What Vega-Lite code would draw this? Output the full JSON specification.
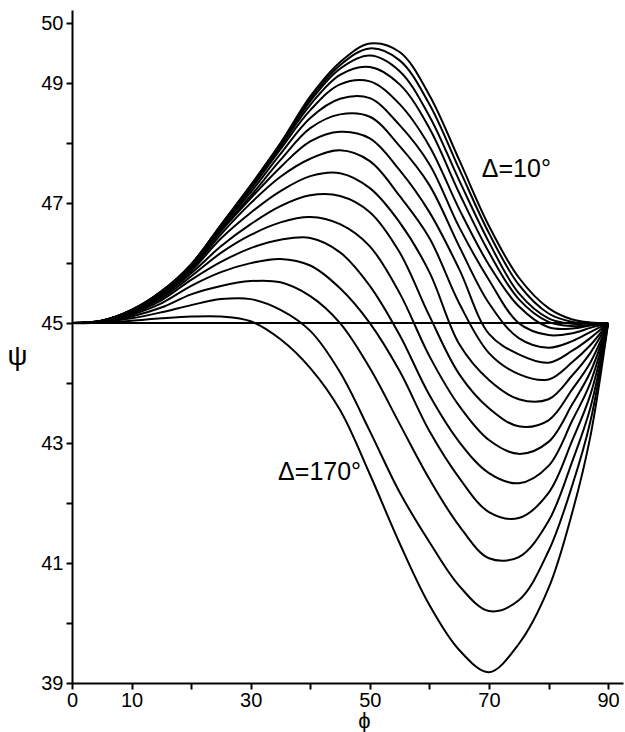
{
"$schema": "https://vega.github.io/schema/vega-lite/v6.json",
"width": 551, "height": 673,
"autosize": {"type": "none"},
"padding": {"left": 72, "top": 10, "right": 2, "bottom": 49},
"background": "white",
"config": {"view": {"stroke": null}, "font": "Liberation Sans"},
"datasets": {
"curves": [
{"delta":"10","phi":0,"psi":45},{"delta":"10","phi":5,"psi":45.04},{"delta":"10","phi":10,"psi":45.22},{"delta":"10","phi":15,"psi":45.53},{"delta":"10","phi":20,"psi":45.98},{"delta":"10","phi":25,"psi":46.64},{"delta":"10","phi":30,"psi":47.30},{"delta":"10","phi":35,"psi":48.00},{"delta":"10","phi":40,"psi":48.78},{"delta":"10","phi":45,"psi":49.35},{"delta":"10","phi":50,"psi":49.66},{"delta":"10","phi":55,"psi":49.52},{"delta":"10","phi":60,"psi":48.80},{"delta":"10","phi":65,"psi":47.72},{"delta":"10","phi":70,"psi":46.62},{"delta":"10","phi":75,"psi":45.76},{"delta":"10","phi":80,"psi":45.25},{"delta":"10","phi":84,"psi":45.06},{"delta":"10","phi":87,"psi":45.01},{"delta":"10","phi":90,"psi":45},
{"delta":"20","phi":0,"psi":45},{"delta":"20","phi":5,"psi":45.04},{"delta":"20","phi":10,"psi":45.22},{"delta":"20","phi":15,"psi":45.53},{"delta":"20","phi":20,"psi":45.98},{"delta":"20","phi":25,"psi":46.63},{"delta":"20","phi":30,"psi":47.29},{"delta":"20","phi":35,"psi":47.99},{"delta":"20","phi":40,"psi":48.74},{"delta":"20","phi":45,"psi":49.30},{"delta":"20","phi":50,"psi":49.58},{"delta":"20","phi":55,"psi":49.38},{"delta":"20","phi":60,"psi":48.65},{"delta":"20","phi":65,"psi":47.57},{"delta":"20","phi":70,"psi":46.50},{"delta":"20","phi":75,"psi":45.64},{"delta":"20","phi":80,"psi":45.16},{"delta":"20","phi":84,"psi":45.02},{"delta":"20","phi":87,"psi":45.00},{"delta":"20","phi":90,"psi":45},
{"delta":"30","phi":0,"psi":45},{"delta":"30","phi":5,"psi":45.04},{"delta":"30","phi":10,"psi":45.22},{"delta":"30","phi":15,"psi":45.52},{"delta":"30","phi":20,"psi":45.97},{"delta":"30","phi":25,"psi":46.63},{"delta":"30","phi":30,"psi":47.28},{"delta":"30","phi":35,"psi":47.97},{"delta":"30","phi":40,"psi":48.70},{"delta":"30","phi":45,"psi":49.24},{"delta":"30","phi":50,"psi":49.46},{"delta":"30","phi":55,"psi":49.20},{"delta":"30","phi":60,"psi":48.45},{"delta":"30","phi":65,"psi":47.38},{"delta":"30","phi":70,"psi":46.35},{"delta":"30","phi":75,"psi":45.50},{"delta":"30","phi":80,"psi":45.08},{"delta":"30","phi":84,"psi":44.99},{"delta":"30","phi":87,"psi":44.99},{"delta":"30","phi":90,"psi":45},
{"delta":"40","phi":0,"psi":45},{"delta":"40","phi":5,"psi":45.04},{"delta":"40","phi":10,"psi":45.21},{"delta":"40","phi":15,"psi":45.52},{"delta":"40","phi":20,"psi":45.97},{"delta":"40","phi":25,"psi":46.62},{"delta":"40","phi":30,"psi":47.26},{"delta":"40","phi":35,"psi":47.94},{"delta":"40","phi":40,"psi":48.64},{"delta":"40","phi":45,"psi":49.14},{"delta":"40","phi":50,"psi":49.27},{"delta":"40","phi":55,"psi":48.98},{"delta":"40","phi":60,"psi":48.25},{"delta":"40","phi":65,"psi":47.17},{"delta":"40","phi":70,"psi":46.18},{"delta":"40","phi":75,"psi":45.40},{"delta":"40","phi":80,"psi":45.02},{"delta":"40","phi":84,"psi":44.95},{"delta":"40","phi":87,"psi":44.97},{"delta":"40","phi":90,"psi":45},
{"delta":"50","phi":0,"psi":45},{"delta":"50","phi":5,"psi":45.04},{"delta":"50","phi":10,"psi":45.21},{"delta":"50","phi":15,"psi":45.52},{"delta":"50","phi":20,"psi":45.96},{"delta":"50","phi":25,"psi":46.61},{"delta":"50","phi":30,"psi":47.23},{"delta":"50","phi":35,"psi":47.90},{"delta":"50","phi":40,"psi":48.55},{"delta":"50","phi":45,"psi":48.98},{"delta":"50","phi":50,"psi":49.03},{"delta":"50","phi":55,"psi":48.65},{"delta":"50","phi":60,"psi":47.95},{"delta":"50","phi":65,"psi":46.90},{"delta":"50","phi":70,"psi":45.97},{"delta":"50","phi":75,"psi":45.28},{"delta":"50","phi":80,"psi":44.93},{"delta":"50","phi":84,"psi":44.91},{"delta":"50","phi":87,"psi":44.96},{"delta":"50","phi":90,"psi":45},
{"delta":"60","phi":0,"psi":45},{"delta":"60","phi":5,"psi":45.04},{"delta":"60","phi":10,"psi":45.21},{"delta":"60","phi":15,"psi":45.51},{"delta":"60","phi":20,"psi":45.95},{"delta":"60","phi":25,"psi":46.59},{"delta":"60","phi":30,"psi":47.18},{"delta":"60","phi":35,"psi":47.82},{"delta":"60","phi":40,"psi":48.42},{"delta":"60","phi":45,"psi":48.74},{"delta":"60","phi":50,"psi":48.75},{"delta":"60","phi":55,"psi":48.30},{"delta":"60","phi":60,"psi":47.65},{"delta":"60","phi":65,"psi":46.60},{"delta":"60","phi":70,"psi":45.72},{"delta":"60","phi":75,"psi":45.00},{"delta":"60","phi":80,"psi":44.80},{"delta":"60","phi":84,"psi":44.83},{"delta":"60","phi":87,"psi":44.92},{"delta":"60","phi":90,"psi":45},
{"delta":"70","phi":0,"psi":45},{"delta":"70","phi":5,"psi":45.04},{"delta":"70","phi":10,"psi":45.20},{"delta":"70","phi":15,"psi":45.50},{"delta":"70","phi":20,"psi":45.94},{"delta":"70","phi":25,"psi":46.56},{"delta":"70","phi":30,"psi":47.12},{"delta":"70","phi":35,"psi":47.72},{"delta":"70","phi":40,"psi":48.25},{"delta":"70","phi":45,"psi":48.48},{"delta":"70","phi":50,"psi":48.44},{"delta":"70","phi":55,"psi":47.95},{"delta":"70","phi":60,"psi":47.30},{"delta":"70","phi":65,"psi":46.28},{"delta":"70","phi":70,"psi":45.33},{"delta":"70","phi":75,"psi":44.75},{"delta":"70","phi":80,"psi":44.59},{"delta":"70","phi":84,"psi":44.70},{"delta":"70","phi":87,"psi":44.85},{"delta":"70","phi":90,"psi":45},
{"delta":"80","phi":0,"psi":45},{"delta":"80","phi":5,"psi":45.03},{"delta":"80","phi":10,"psi":45.20},{"delta":"80","phi":15,"psi":45.49},{"delta":"80","phi":20,"psi":45.92},{"delta":"80","phi":25,"psi":46.53},{"delta":"80","phi":30,"psi":47.08},{"delta":"80","phi":35,"psi":47.60},{"delta":"80","phi":40,"psi":48.03},{"delta":"80","phi":45,"psi":48.19},{"delta":"80","phi":50,"psi":48.08},{"delta":"80","phi":55,"psi":47.55},{"delta":"80","phi":60,"psi":46.85},{"delta":"80","phi":65,"psi":45.90},{"delta":"80","phi":70,"psi":44.82},{"delta":"80","phi":75,"psi":44.48},{"delta":"80","phi":80,"psi":44.34},{"delta":"80","phi":84,"psi":44.54},{"delta":"80","phi":87,"psi":44.75},{"delta":"80","phi":90,"psi":45},
{"delta":"90","phi":0,"psi":45},{"delta":"90","phi":5,"psi":45.03},{"delta":"90","phi":10,"psi":45.19},{"delta":"90","phi":15,"psi":45.48},{"delta":"90","phi":20,"psi":45.90},{"delta":"90","phi":25,"psi":46.48},{"delta":"90","phi":30,"psi":47.00},{"delta":"90","phi":35,"psi":47.44},{"delta":"90","phi":40,"psi":47.74},{"delta":"90","phi":45,"psi":47.88},{"delta":"90","phi":50,"psi":47.70},{"delta":"90","phi":55,"psi":47.12},{"delta":"90","phi":60,"psi":46.42},{"delta":"90","phi":65,"psi":45.33},{"delta":"90","phi":70,"psi":44.50},{"delta":"90","phi":75,"psi":44.15},{"delta":"90","phi":80,"psi":44.06},{"delta":"90","phi":84,"psi":44.35},{"delta":"90","phi":87,"psi":44.63},{"delta":"90","phi":90,"psi":45},
{"delta":"100","phi":0,"psi":45},{"delta":"100","phi":5,"psi":45.03},{"delta":"100","phi":10,"psi":45.19},{"delta":"100","phi":15,"psi":45.46},{"delta":"100","phi":20,"psi":45.87},{"delta":"100","phi":25,"psi":46.41},{"delta":"100","phi":30,"psi":46.84},{"delta":"100","phi":35,"psi":47.20},{"delta":"100","phi":40,"psi":47.45},{"delta":"100","phi":45,"psi":47.50},{"delta":"100","phi":50,"psi":47.25},{"delta":"100","phi":55,"psi":46.68},{"delta":"100","phi":60,"psi":45.85},{"delta":"100","phi":65,"psi":44.65},{"delta":"100","phi":70,"psi":44.05},{"delta":"100","phi":75,"psi":43.73},{"delta":"100","phi":80,"psi":43.73},{"delta":"100","phi":84,"psi":44.13},{"delta":"100","phi":87,"psi":44.50},{"delta":"100","phi":90,"psi":45},
{"delta":"110","phi":0,"psi":45},{"delta":"110","phi":5,"psi":45.03},{"delta":"110","phi":10,"psi":45.18},{"delta":"110","phi":15,"psi":45.44},{"delta":"110","phi":20,"psi":45.83},{"delta":"110","phi":25,"psi":46.28},{"delta":"110","phi":30,"psi":46.65},{"delta":"110","phi":35,"psi":46.95},{"delta":"110","phi":40,"psi":47.13},{"delta":"110","phi":45,"psi":47.12},{"delta":"110","phi":50,"psi":46.85},{"delta":"110","phi":55,"psi":46.18},{"delta":"110","phi":60,"psi":45.12},{"delta":"110","phi":65,"psi":44.15},{"delta":"110","phi":70,"psi":43.58},{"delta":"110","phi":75,"psi":43.28},{"delta":"110","phi":80,"psi":43.38},{"delta":"110","phi":84,"psi":43.90},{"delta":"110","phi":87,"psi":44.34},{"delta":"110","phi":90,"psi":45},
{"delta":"120","phi":0,"psi":45},{"delta":"120","phi":5,"psi":45.03},{"delta":"120","phi":10,"psi":45.17},{"delta":"120","phi":15,"psi":45.41},{"delta":"120","phi":20,"psi":45.78},{"delta":"120","phi":25,"psi":46.17},{"delta":"120","phi":30,"psi":46.47},{"delta":"120","phi":35,"psi":46.68},{"delta":"120","phi":40,"psi":46.77},{"delta":"120","phi":45,"psi":46.65},{"delta":"120","phi":50,"psi":46.28},{"delta":"120","phi":55,"psi":45.50},{"delta":"120","phi":60,"psi":44.45},{"delta":"120","phi":65,"psi":43.62},{"delta":"120","phi":70,"psi":43.05},{"delta":"120","phi":75,"psi":42.82},{"delta":"120","phi":80,"psi":43.02},{"delta":"120","phi":84,"psi":43.65},{"delta":"120","phi":87,"psi":44.18},{"delta":"120","phi":90,"psi":45},
{"delta":"130","phi":0,"psi":45},{"delta":"130","phi":5,"psi":45.03},{"delta":"130","phi":10,"psi":45.16},{"delta":"130","phi":15,"psi":45.38},{"delta":"130","phi":20,"psi":45.72},{"delta":"130","phi":25,"psi":46.02},{"delta":"130","phi":30,"psi":46.25},{"delta":"130","phi":35,"psi":46.39},{"delta":"130","phi":40,"psi":46.42},{"delta":"130","phi":45,"psi":46.18},{"delta":"130","phi":50,"psi":45.62},{"delta":"130","phi":55,"psi":44.80},{"delta":"130","phi":60,"psi":43.80},{"delta":"130","phi":65,"psi":43.02},{"delta":"130","phi":70,"psi":42.50},{"delta":"130","phi":75,"psi":42.33},{"delta":"130","phi":80,"psi":42.62},{"delta":"130","phi":84,"psi":43.38},{"delta":"130","phi":87,"psi":44.00},{"delta":"130","phi":90,"psi":45},
{"delta":"140","phi":0,"psi":45},{"delta":"140","phi":5,"psi":45.02},{"delta":"140","phi":10,"psi":45.14},{"delta":"140","phi":15,"psi":45.33},{"delta":"140","phi":20,"psi":45.62},{"delta":"140","phi":25,"psi":45.85},{"delta":"140","phi":30,"psi":46.00},{"delta":"140","phi":35,"psi":46.07},{"delta":"140","phi":40,"psi":45.96},{"delta":"140","phi":45,"psi":45.58},{"delta":"140","phi":50,"psi":45.00},{"delta":"140","phi":55,"psi":44.20},{"delta":"140","phi":60,"psi":43.20},{"delta":"140","phi":65,"psi":42.42},{"delta":"140","phi":70,"psi":41.85},{"delta":"140","phi":75,"psi":41.75},{"delta":"140","phi":80,"psi":42.17},{"delta":"140","phi":84,"psi":43.05},{"delta":"140","phi":87,"psi":43.80},{"delta":"140","phi":90,"psi":45},
{"delta":"150","phi":0,"psi":45},{"delta":"150","phi":5,"psi":45.02},{"delta":"150","phi":10,"psi":45.11},{"delta":"150","phi":15,"psi":45.26},{"delta":"150","phi":20,"psi":45.48},{"delta":"150","phi":25,"psi":45.62},{"delta":"150","phi":30,"psi":45.70},{"delta":"150","phi":35,"psi":45.68},{"delta":"150","phi":40,"psi":45.45},{"delta":"150","phi":45,"psi":45.00},{"delta":"150","phi":50,"psi":44.25},{"delta":"150","phi":55,"psi":43.32},{"delta":"150","phi":60,"psi":42.40},{"delta":"150","phi":65,"psi":41.62},{"delta":"150","phi":70,"psi":41.08},{"delta":"150","phi":75,"psi":41.10},{"delta":"150","phi":80,"psi":41.70},{"delta":"150","phi":84,"psi":42.70},{"delta":"150","phi":87,"psi":43.58},{"delta":"150","phi":90,"psi":45},
{"delta":"160","phi":0,"psi":45},{"delta":"160","phi":5,"psi":45.02},{"delta":"160","phi":10,"psi":45.08},{"delta":"160","phi":15,"psi":45.18},{"delta":"160","phi":20,"psi":45.30},{"delta":"160","phi":25,"psi":45.40},{"delta":"160","phi":30,"psi":45.40},{"delta":"160","phi":35,"psi":45.22},{"delta":"160","phi":40,"psi":44.87},{"delta":"160","phi":45,"psi":44.18},{"delta":"160","phi":50,"psi":43.20},{"delta":"160","phi":55,"psi":42.18},{"delta":"160","phi":60,"psi":41.35},{"delta":"160","phi":65,"psi":40.62},{"delta":"160","phi":70,"psi":40.20},{"delta":"160","phi":75,"psi":40.38},{"delta":"160","phi":80,"psi":41.20},{"delta":"160","phi":84,"psi":42.30},{"delta":"160","phi":87,"psi":43.35},{"delta":"160","phi":90,"psi":45},
{"delta":"170","phi":0,"psi":45},{"delta":"170","phi":5,"psi":45.01},{"delta":"170","phi":10,"psi":45.04},{"delta":"170","phi":15,"psi":45.08},{"delta":"170","phi":20,"psi":45.11},{"delta":"170","phi":25,"psi":45.11},{"delta":"170","phi":30,"psi":45.03},{"delta":"170","phi":35,"psi":44.73},{"delta":"170","phi":40,"psi":44.25},{"delta":"170","phi":45,"psi":43.55},{"delta":"170","phi":50,"psi":42.48},{"delta":"170","phi":55,"psi":41.33},{"delta":"170","phi":60,"psi":40.30},{"delta":"170","phi":65,"psi":39.55},{"delta":"170","phi":70,"psi":39.18},{"delta":"170","phi":75,"psi":39.65},{"delta":"170","phi":80,"psi":40.58},{"delta":"170","phi":84,"psi":41.85},{"delta":"170","phi":87,"psi":43.10},{"delta":"170","phi":90,"psi":45},
{"delta":"ref","phi":0,"psi":45},{"delta":"ref","phi":90,"psi":45}
],
"labels": [
{"text":"Δ=10°","phi":68.8,"psi":47.43},
{"text":"Δ=170°","phi":34.6,"psi":42.38}
]
},
"layer": [
{
"data": {"name": "curves"},
"mark": {"type": "line", "color": "black", "strokeWidth": 2, "interpolate": "catmull-rom"},
"encoding": {
"x": {"field": "phi", "type": "quantitative",
"scale": {"domain": [0, 92.5], "nice": false, "zero": false},
"axis": {"values": [0,10,20,30,40,50,60,70,80,90], "format": "d",
"labelExpr": "(datum.value==20||datum.value==40||datum.value==60||datum.value==80) ? '' : datum.label",
"title": "ϕ", "grid": false, "domainColor": "black", "domainWidth": 2, "tickColor": "black", "tickWidth": 2, "tickSize": 6,
"labelFont": "Liberation Sans", "labelFontSize": 20, "labelColor": "black", "labelPadding": 1, "labelOverlap": false, "labelFlush": false, "labelBound": false,
"titleFont": "Liberation Sans", "titleFontSize": 22, "titleFontWeight": "normal", "titleColor": "black", "titleX": 292, "titleY": 44, "titleAlign": "center", "titleBaseline": "alphabetic"}},
"y": {"field": "psi", "type": "quantitative",
"scale": {"domain": [39, 50.22], "nice": false, "zero": false},
"axis": {"values": [39,40,41,42,43,44,45,46,47,48,49,50], "format": "d",
"labelExpr": "(datum.value==40||datum.value==42||datum.value==44||datum.value==46||datum.value==48) ? '' : datum.label",
"title": "ψ", "grid": false, "domainColor": "black", "domainWidth": 2, "tickColor": "black", "tickWidth": 2, "tickSize": 6,
"labelFont": "Liberation Sans", "labelFontSize": 20, "labelColor": "black", "labelPadding": 3, "labelOverlap": false, "labelFlush": false, "labelBound": false,
"titleFont": "Liberation Sans", "titleFontSize": 28, "titleFontWeight": "normal", "titleColor": "black", "titleAngle": 0, "titleX": -55, "titleY": 346, "titleAlign": "center", "titleBaseline": "middle"}},
"detail": {"field": "delta", "type": "nominal"}
}
},
{
"data": {"name": "labels"},
"mark": {"type": "text", "align": "left", "baseline": "alphabetic", "fontSize": 25, "font": "Liberation Sans", "color": "black"},
"encoding": {
"x": {"field": "phi", "type": "quantitative"},
"y": {"field": "psi", "type": "quantitative"},
"text": {"field": "text"}
}
}
]
}
